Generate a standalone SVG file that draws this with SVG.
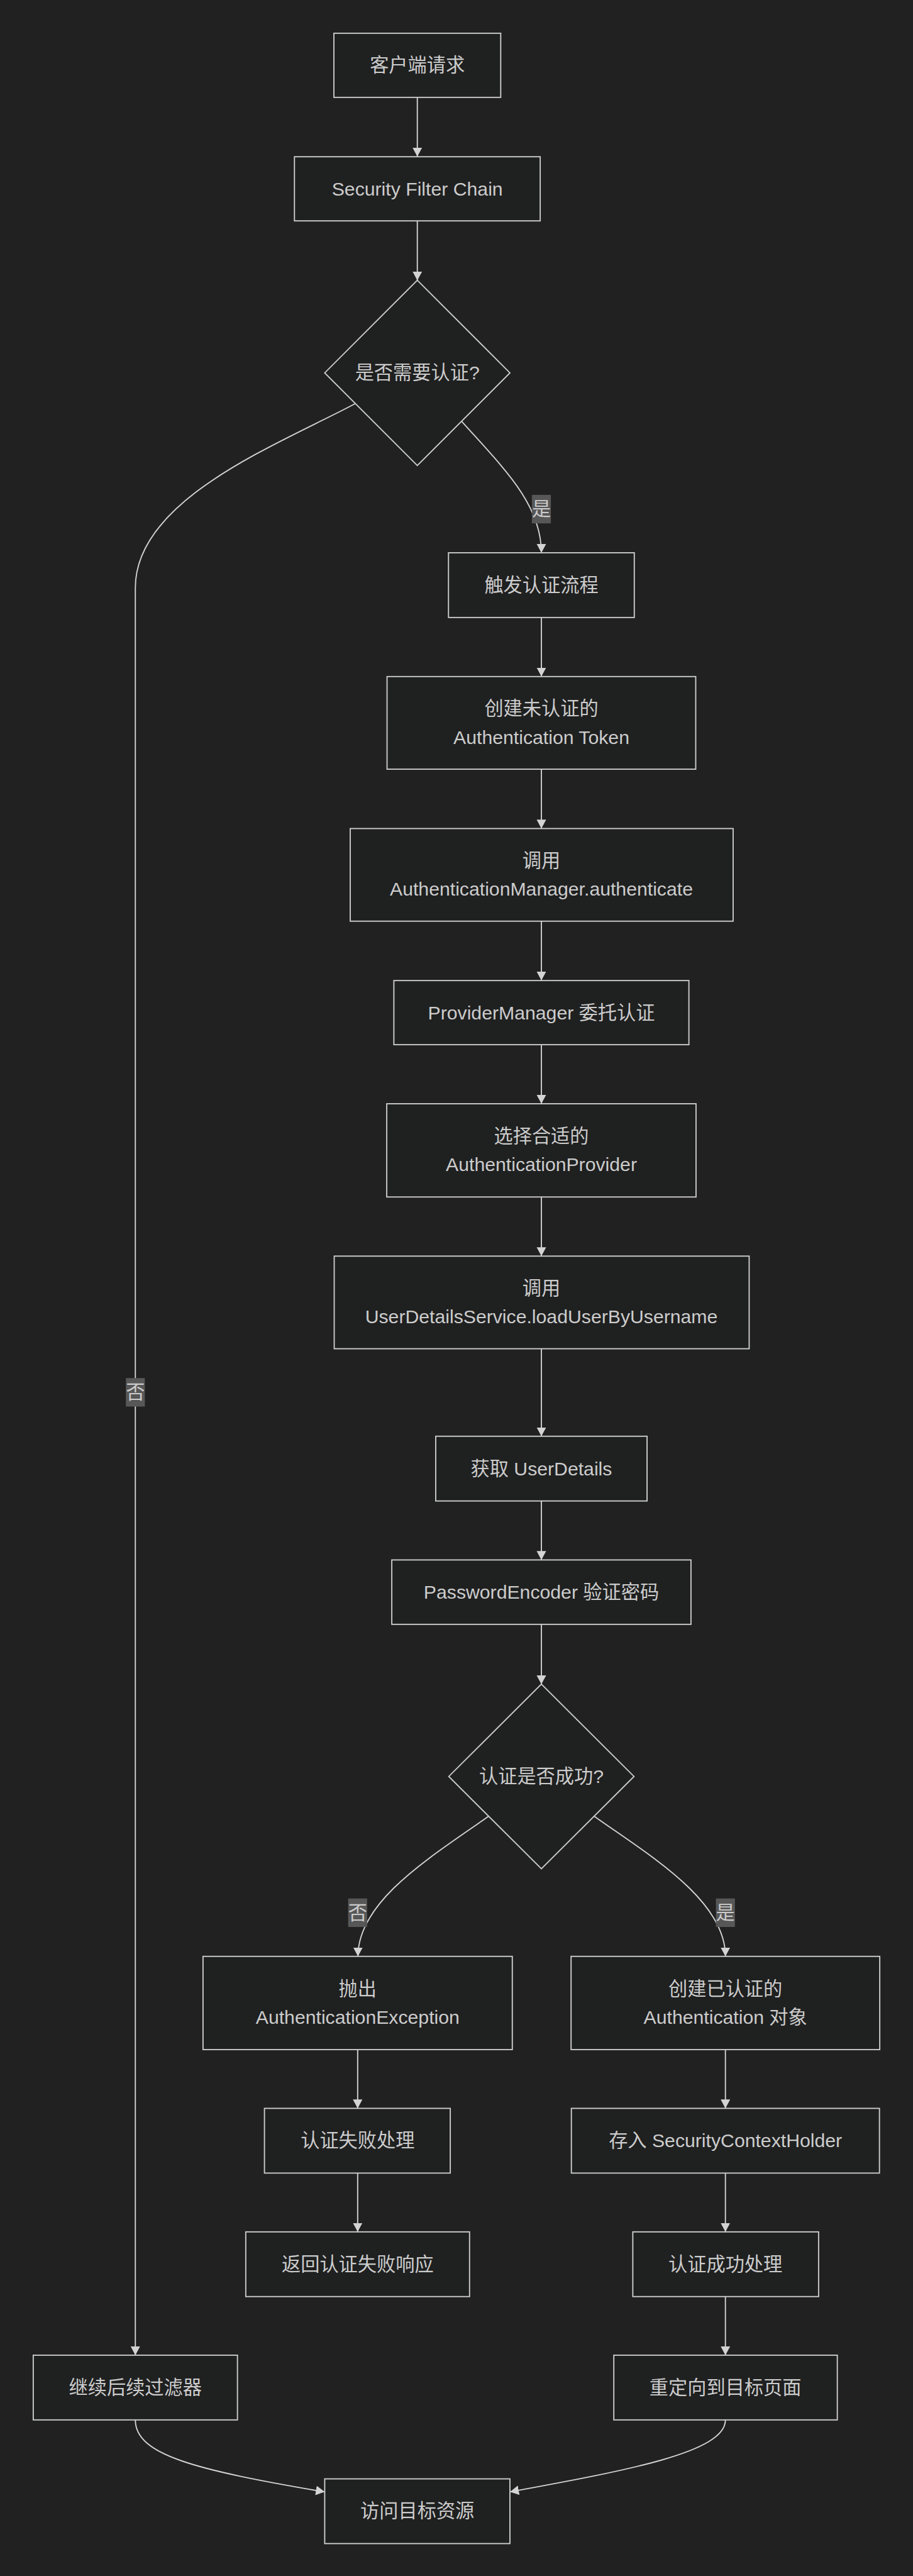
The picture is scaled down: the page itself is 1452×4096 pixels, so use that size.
<svg xmlns="http://www.w3.org/2000/svg" width="1452" height="4096" viewBox="0 0 1452 4096">
<defs>
<style>
.n rect,.n polygon{fill:#1f2020;stroke:#cccccc;stroke-width:2}
.n text,.lbl text{font-family:"Liberation Sans","Noto Sans CJK SC",sans-serif;font-size:32px;fill:#cccccc;text-anchor:middle;dominant-baseline:central}
.e{fill:none;stroke:#d3d3d3;stroke-width:2;marker-end:url(#arr)}
.lbl rect{fill:#575757}
</style>
<marker id="arr" markerUnits="userSpaceOnUse" markerWidth="16" markerHeight="16" refX="15" refY="8" orient="auto" viewBox="0 0 16 16">
<path d="M0,0 L15,8 L0,16 z" fill="#d3d3d3"/>
</marker>
</defs>
<rect x="0" y="0" width="1452" height="4096" fill="#212121"/>
<g transform="scale(0.944083)">
<g id="connectors">
<path class="e" d="M703,164 L703,263.7"/>
<path class="e" d="M703,372 L703,472.3"/>
<path class="e" d="M778,710 C850,790 912,850 912,931"/>
<path class="e" d="M598,680 C470,748 228,840 228,990 L228,3966.7"/>
<path class="e" d="M912,1040 L912,1139.4"/>
<path class="e" d="M912,1295.5 L912,1395.5"/>
<path class="e" d="M912,1551.6 L912,1651.3"/>
<path class="e" d="M912,1759.8 L912,1858.9"/>
<path class="e" d="M912,2016 L912,2115.6"/>
<path class="e" d="M912,2271.9 L912,2419"/>
<path class="e" d="M912,2528.3 L912,2627.3"/>
<path class="e" d="M912,2735.7 L912,2836.7"/>
<path class="e" d="M823,3059 C730,3125 603,3200 603,3295"/>
<path class="e" d="M1001,3059 C1094,3125 1222,3200 1222,3295"/>
<path class="e" d="M602.5,3452 L602.5,3551"/>
<path class="e" d="M602.5,3660 L602.5,3759"/>
<path class="e" d="M1222,3452 L1222,3551"/>
<path class="e" d="M1222,3660 L1222,3759"/>
<path class="e" d="M1222,3868 L1222,3966.7"/>
<path class="e" d="M228,4076 C228,4135 330,4160 547,4197"/>
<path class="e" d="M1222,4076 C1222,4130 1060,4160 859,4197"/>
<g class="lbl"><rect x="896" y="833.5" width="32" height="48"/><text x="912" y="857.5">是</text></g>
<g class="lbl"><rect x="212" y="2321" width="32" height="48"/><text x="228" y="2345">否</text></g>
<g class="lbl"><rect x="586.5" y="3197.5" width="32" height="48"/><text x="602.5" y="3221.5">否</text></g>
<g class="lbl"><rect x="1206" y="3197.5" width="32" height="48"/><text x="1222" y="3221.5">是</text></g>
</g>
<g id="n1" class="n"><rect x="562.5" y="56" width="281" height="108"/><text x="703" y="110">客户端请求</text></g>
<g id="n2" class="n"><rect x="496" y="264" width="414" height="108"/><text x="703" y="318">Security Filter Chain</text></g>
<g id="d1" class="n"><polygon points="703,472 859,628 703,784 547,628"/><text x="703" y="628">是否需要认证?</text></g>
<g id="n3" class="n"><rect x="755.5" y="931" width="313" height="109"/><text x="912" y="985.5">触发认证流程</text></g>
<g id="n4" class="n"><rect x="652" y="1139.5" width="520" height="156"/><text x="912" y="1193.5">创建未认证的</text><text x="912" y="1241.5">Authentication Token</text></g>
<g id="n5" class="n"><rect x="590" y="1395.5" width="645" height="156"/><text x="912" y="1449.5">调用</text><text x="912" y="1497.5">AuthenticationManager.authenticate</text></g>
<g id="n6" class="n"><rect x="663.5" y="1651.5" width="497" height="108"/><text x="912" y="1705.5">ProviderManager 委托认证</text></g>
<g id="n7" class="n"><rect x="651.5" y="1859" width="521" height="157"/><text x="912" y="1913.5">选择合适的</text><text x="912" y="1961.5">AuthenticationProvider</text></g>
<g id="n8" class="n"><rect x="563" y="2115.6" width="699" height="156"/><text x="912" y="2169.6">调用</text><text x="912" y="2217.6">UserDetailsService.loadUserByUsername</text></g>
<g id="n9" class="n"><rect x="734" y="2419" width="356" height="109"/><text x="912" y="2473.5">获取 UserDetails</text></g>
<g id="n10" class="n"><rect x="660" y="2627.3" width="504" height="108.5"/><text x="912" y="2681.5">PasswordEncoder 验证密码</text></g>
<g id="d2" class="n"><polygon points="912,2836.5 1068,2992 912,3147.5 756,2992"/><text x="912" y="2992">认证是否成功?</text></g>
<g id="n11" class="n"><rect x="342" y="3295" width="521" height="157"/><text x="602.5" y="3349.5">抛出</text><text x="602.5" y="3397.5">AuthenticationException</text></g>
<g id="n12" class="n"><rect x="962" y="3295" width="520" height="157"/><text x="1222" y="3349.5">创建已认证的</text><text x="1222" y="3397.5">Authentication 对象</text></g>
<g id="n13" class="n"><rect x="445.5" y="3551" width="313" height="109"/><text x="602.5" y="3605.5">认证失败处理</text></g>
<g id="n14" class="n"><rect x="962.5" y="3551" width="519" height="109"/><text x="1222" y="3605.5">存入 SecurityContextHolder</text></g>
<g id="n15" class="n"><rect x="414" y="3759" width="377" height="109"/><text x="602.5" y="3813.5">返回认证失败响应</text></g>
<g id="n16" class="n"><rect x="1066" y="3759" width="313" height="109"/><text x="1222" y="3813.5">认证成功处理</text></g>
<g id="n17" class="n"><rect x="56" y="3966.7" width="344" height="109"/><text x="228" y="4021">继续后续过滤器</text></g>
<g id="n18" class="n"><rect x="1034" y="3966.7" width="376.5" height="109"/><text x="1222" y="4021">重定向到目标页面</text></g>
<g id="n19" class="n"><rect x="547" y="4175" width="312" height="109"/><text x="703" y="4229.5">访问目标资源</text></g>
</g>
</svg>
